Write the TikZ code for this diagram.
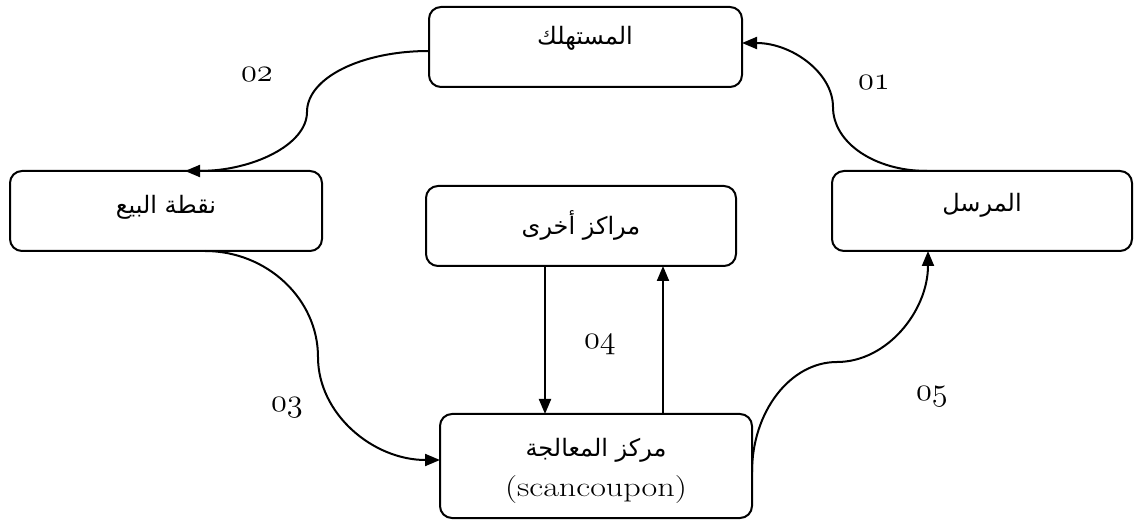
\documentclass[tikz,border=0pt]{standalone}
\usepackage{fontspec}
\usetikzlibrary{arrows.meta}
\TeXXeTstate=1
\newfontfamily\arabicfont[Script=Arabic]{DejaVu Sans}

\tikzset{
  box/.style={draw, rounded corners=12pt, line width=2pt, inner sep=0pt, outer sep=0pt},
  artext/.style={font=\arabicfont\fontsize{24}{27}\selectfont, inner sep=0pt},
  lattext/.style={font=\fontsize{28}{32}\selectfont, inner sep=0pt},
  numtext/.style={font=\fontsize{24.88}{28}\usefont{OML}{cmm}{m}{it}, inner sep=0pt},
  flow/.style={line width=2pt, -{Triangle[length=15pt,width=12pt]}},
}
\newcommand{\ar}[1]{\beginR #1\endR}
\newcommand{\wide}[1]{\scalebox{1.22}[1]{#1}}
\newcommand{\stepno}[1]{\scalebox{1.3}{#1}}

\begin{document}
\begin{tikzpicture}[x=1pt,y=-1pt]
\useasboundingbox (0,0) rectangle (1136,521);

% boxes
\node[box, minimum width=313pt, minimum height=80pt] (cons)   at (585.5,47) {};
\node[box, minimum width=312pt, minimum height=80pt] (sale)   at (166,211) {};
\node[box, minimum width=300pt, minimum height=80pt] (sender) at (982,211) {};
\node[box, minimum width=310pt, minimum height=80pt] (other)  at (581,226) {};
\node[box, minimum width=312pt, minimum height=104pt] (proc)  at (596,466) {};

% box texts
\node[artext] (cons-t)   at (585,38)  {\ar{المستهلك}};
\node[artext] (sale-t)   at (166,207) {\ar{نقطة البيع}};
\node[artext] (sender-t) at (982,205) {\ar{المرسل}};
\node[artext] (other-t)  at (581,225) {\ar{مراكز أخرى}};
\node[artext] (proc-t)   at (596,450) {\ar{مركز المعالجة}};
\node[lattext] (proc-l)  at (596,490) {\wide{(scancoupon)}};

% step numbers
\node[numtext] (n1) at (874,83)  {\stepno{01}};
\node[numtext] (n2) at (257,75)  {\stepno{02}};
\node[numtext] (n3) at (287,408) {\stepno{03}};
\node[numtext] (n4) at (600,345) {\stepno{04}};
\node[numtext] (n5) at (932,397) {\stepno{05}};

% 01: sender -> consumer
\draw[flow] ([xshift=-55pt]sender.north)
  .. controls +(-52,0) and +(0,36) .. (833,107)
  .. controls +(0,-34) and +(50,0) .. ([yshift=4pt]cons.east);

% 02: consumer -> point of sale
\draw[flow] ([yshift=-4pt]cons.west)
  .. controls +(-68,0) and +(0,-34) .. (307,112)
  .. controls +(0,33) and +(67,0) .. ([xshift=19pt]sale.north);

% 03: point of sale -> processing centre
\draw[flow] ([xshift=39pt]sale.south)
  .. controls +(62,0) and +(0,-58) .. (318,357)
  .. controls +(0,57) and +(-67,0) .. ([yshift=6pt]proc.west);

% 04: exchange with other centres
\draw[flow] ([xshift=-36pt]other.south) -- ([xshift=-36pt]other.south |- proc.north);
\draw[flow] ([xshift=82pt]other.south |- proc.north) -- ([xshift=82pt]other.south);

% 05: processing centre -> sender
\draw[flow] ([yshift=-6pt]proc.east)
  .. controls +(0,-60) and +(-47,0) .. (837,362)
  .. controls +(50,0) and +(0,60) .. ([xshift=-54pt]sender.south);
\end{tikzpicture}
\end{document}
